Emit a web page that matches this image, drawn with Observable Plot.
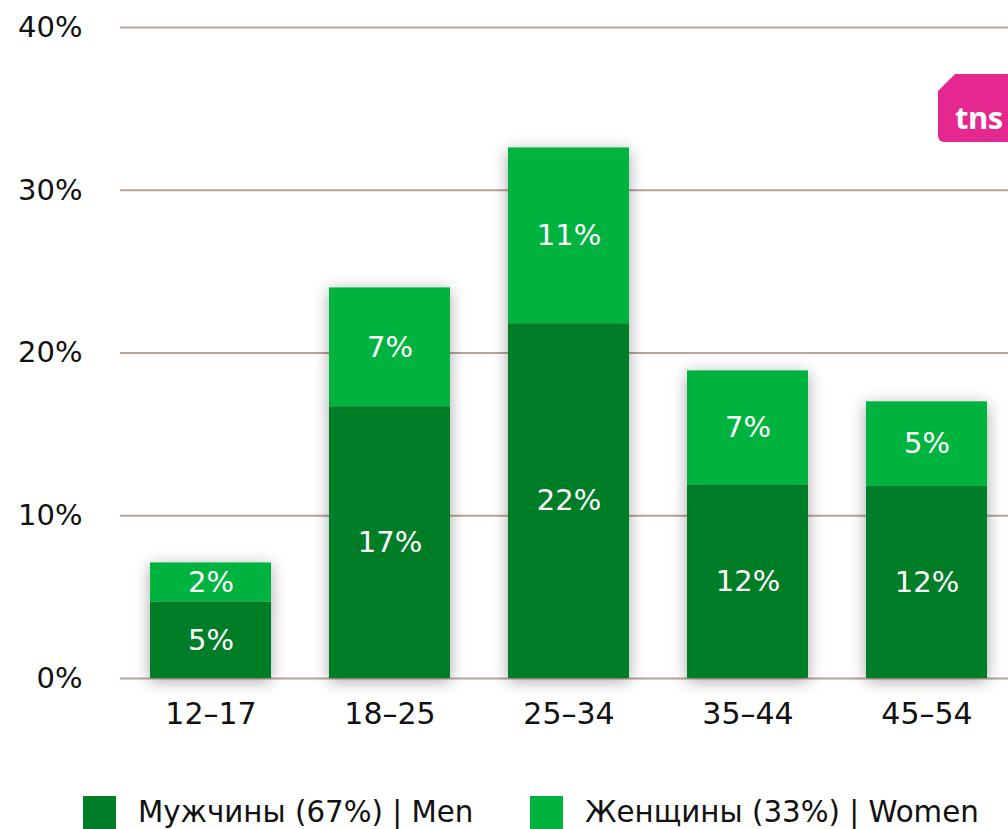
<!DOCTYPE html>
<html>
<head>
<meta charset="utf-8">
<script src="https://cdn.jsdelivr.net/npm/d3@7"></script>
<script src="https://cdn.jsdelivr.net/npm/@observablehq/plot@0.6"></script>
<style>
  html, body { margin: 0; padding: 0; background: #fff; overflow: hidden; }
  #wrap { position: relative; width: 1008px; height: 829px; overflow: hidden; font-family: "DejaVu Sans", sans-serif; }
  #logo { position: absolute; left: 938px; top: 74px; width: 90px; height: 68px; background: #e5288f;
          border-radius: 6px; clip-path: polygon(17px 0, 100% 0, 100% 100%, 0 100%, 0 17px); }
  #logo span { position: absolute; left: 17px; top: 22px; line-height: 1; color: #fff; font: bold 31px "Open Sans", sans-serif; letter-spacing: -0.5px; }
  .leg { position: absolute; top: 796px; height: 33px; display: flex; align-items: center; font-size: 29.3px; line-height: 33px; color: #111; white-space: nowrap; }
  .leg i { display: inline-block; width: 33px; height: 33px; }
</style>
</head>
<body>
<div id="wrap"></div>
<script>
const categories = ["12–17", "18–25", "25–34", "35–44", "45–54"];
const seriesNames = ["Мужчины (67%) | Men", "Женщины (33%) | Women"];
const men = [4.7, 16.7, 21.8, 11.9, 11.8];
const women = [2.4, 7.3, 10.8, 7.0, 5.2];
const menLabels = ["5%", "17%", "22%", "12%", "12%"];
const womenLabels = ["2%", "7%", "11%", "7%", "5%"];
const yTicks = [0, 10, 20, 30, 40];
const colors = ["#007d27", "#00b33e"];

const rows = [
  ...categories.map((c, i) => ({cat: c, series: seriesNames[0], value: men[i], label: menLabels[i]})),
  ...categories.map((c, i) => ({cat: c, series: seriesNames[1], value: women[i], label: womenLabels[i]}))
];

const chart = Plot.plot({
  width: 1008,
  height: 770,
  marginLeft: 120,
  marginRight: -8,
  marginTop: 27,
  marginBottom: 92,
  style: {fontFamily: "DejaVu Sans, sans-serif", fontSize: "30px", color: "#111", background: "#fff"},
  x: {domain: categories, paddingInner: 0.325, paddingOuter: 0.1625, label: null},
  y: {domain: [0, 40], label: null},
  color: {domain: seriesNames, range: colors},
  marks: [
    Plot.ruleY(yTicks, {stroke: "#b9a299", strokeWidth: 2}),
    Plot.barY(rows, {x: "cat", y: "value", fill: "series", z: "series"}),
    Plot.text(rows, Plot.stackY({x: "cat", y: "value", z: "series", text: "label", fill: "white", fontSize: 29})),
    Plot.axisY(yTicks, {tickSize: 0, tickPadding: 38, tickFormat: d => d + "%", fontSize: 29, fill: "#111"}),
    Plot.axisX({tickSize: 0, tickPadding: 24, fontSize: 30, fill: "#111"})
  ]
});

// soft drop shadow on bars
const barG = chart.querySelector('g[aria-label="bar"]');
if (barG) barG.style.filter = "drop-shadow(0px 3px 8px rgba(0,0,0,0.35))";

const wrap = document.getElementById("wrap");
wrap.appendChild(chart);

const logo = document.createElement("div");
logo.id = "logo";
logo.innerHTML = "<span>tns</span>";
wrap.appendChild(logo);

const legX = [83, 530];
seriesNames.forEach((s, i) => {
  const d = document.createElement("div");
  d.className = "leg";
  d.style.left = legX[i] + "px";
  d.innerHTML = `<i style="background:${colors[i]}"></i><span style="margin-left:22px">${s}</span>`;
  wrap.appendChild(d);
});
</script>
</body>
</html>
